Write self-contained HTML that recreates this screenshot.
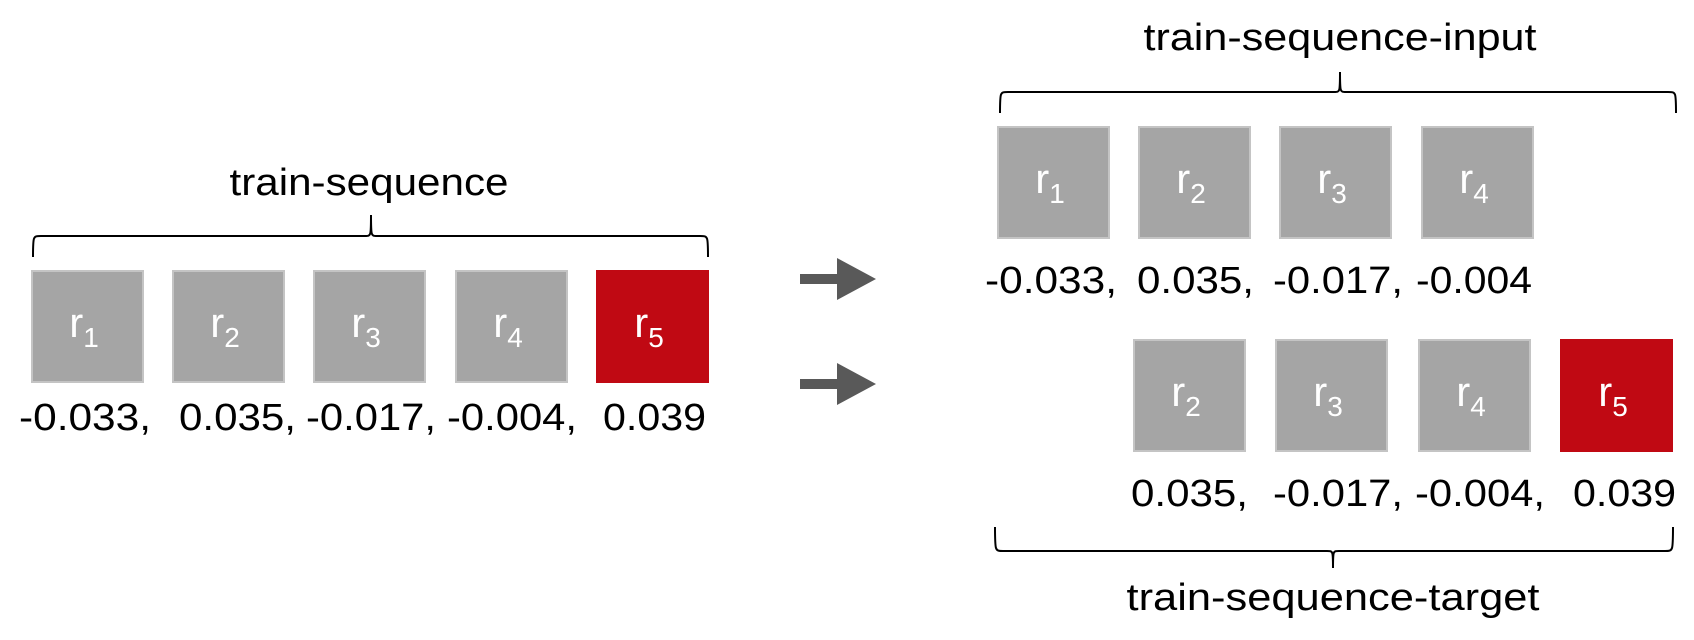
<!DOCTYPE html>
<html><head><meta charset="utf-8"><style>
html,body{margin:0;padding:0;background:#fff;width:1694px;height:640px;overflow:hidden}
text{font-family:"Liberation Sans",sans-serif}
</style></head><body>
<svg id="d" width="1694" height="640" viewBox="0 0 1694 640" xmlns="http://www.w3.org/2000/svg">
<g id="g"></g>
</svg>
<script>
const NS='http://www.w3.org/2000/svg';
const valuesAll=['-0.033,','0.035,','-0.017,','-0.004,','0.039'];
const idx=[1,2,3,4,5];
const red=5;
const g=document.getElementById('g');
function mk(tag,attrs,txt){const e=document.createElementNS(NS,tag);for(const k in attrs)e.setAttribute(k,attrs[k]);if(txt!==undefined)e.textContent=txt;g.appendChild(e);return e;}
function box(x,y,i,name){
  const r=mk('rect',{x:x,y:y,width:111,height:111,fill:i===red?'#c00913':'#a5a5a5',stroke:i===red?'#c00913':'#c4c4c4','stroke-width':2});
  
  
  const t=mk('text',{x:x+52,y:y+66,fill:'#fff','font-size':42,'text-anchor':'middle'});
  
  
  const a=document.createElementNS(NS,'tspan');a.textContent='r';t.appendChild(a);
  const b=document.createElementNS(NS,'tspan');b.setAttribute('font-size','28');b.setAttribute('dy','10');b.textContent=i;t.appendChild(b);
}
function val(x,y,s,w,name){
  const t=mk('text',{x:x,y:y,'font-size':38,fill:'#000',textLength:w,lengthAdjust:'spacingAndGlyphs'},s);
  
  
}
function brace(x1,x2,xm,yEnd,yLine,yTip,name){
  const d=`M${x1},${yEnd} C${x1},${yLine} ${x1},${yLine} ${x1+8},${yLine} L${xm-6},${yLine} C${xm},${yLine} ${xm},${yLine} ${xm},${yTip} C${xm},${yLine} ${xm},${yLine} ${xm+6},${yLine} L${x2-8},${yLine} C${x2},${yLine} ${x2},${yLine} ${x2},${yEnd}`;
  const p=mk('path',{d:d,fill:'none',stroke:'#000','stroke-width':2});
  
  
}
function title(cx,y,s,w,name){
  const t=mk('text',{x:cx-w/2,y:y,'font-size':38,fill:'#000',textLength:w,lengthAdjust:'spacingAndGlyphs'},s);
  
  
}
function arrow(y,name){
  const p=mk('path',{d:`M800,${y-5} L837,${y-5} L837,${y-21} L876,${y} L837,${y+21} L837,${y+5} L800,${y+5} Z`,fill:'#595959'});
  
  
}
// left
const lx=[32,173,314,456,597];
const lvx=[19,179,306,447,603];
const vw=[132,117,130,130,103];
idx.forEach((i,k)=>{box(lx[k],271,i,'train-box-r'+i);val(lvx[k],430,valuesAll[k],vw[k],'train-value-'+i);});
brace(33,708,371,257,236,215,'train-sequence-brace');
title(369,195,'train-sequence',279,'train-sequence-title');
arrow(279,'arrow-to-input');
arrow(384,'arrow-to-target');
// top right input
const tx=[998,1139,1280,1422];
const tvx=[985,1137,1273,1416];
const tvw=[132,117,130,116];
[0,1,2,3].forEach(k=>{box(tx[k],127,idx[k],'input-box-r'+idx[k]);val(tvx[k],293,k===3?'-0.004':valuesAll[k],tvw[k],'input-value-'+idx[k]);});
brace(1000,1676,1340,113,92,72,'input-brace');
title(1340,50,'train-sequence-input',393,'input-title');
// bottom right target
const bx=[1134,1276,1419,1561];
const bvx=[1131,1273,1415,1573];
const bvw=[117,130,130,103];
[1,2,3,4].forEach((k,j)=>{box(bx[j],340,idx[k],'target-box-r'+idx[k]);val(bvx[j],506,valuesAll[k],bvw[j],'target-value-'+idx[k]);});
brace(995,1673,1333,527,551,568,'target-brace');
title(1333,610,'train-sequence-target',413,'target-title');
</script>
</body></html>
